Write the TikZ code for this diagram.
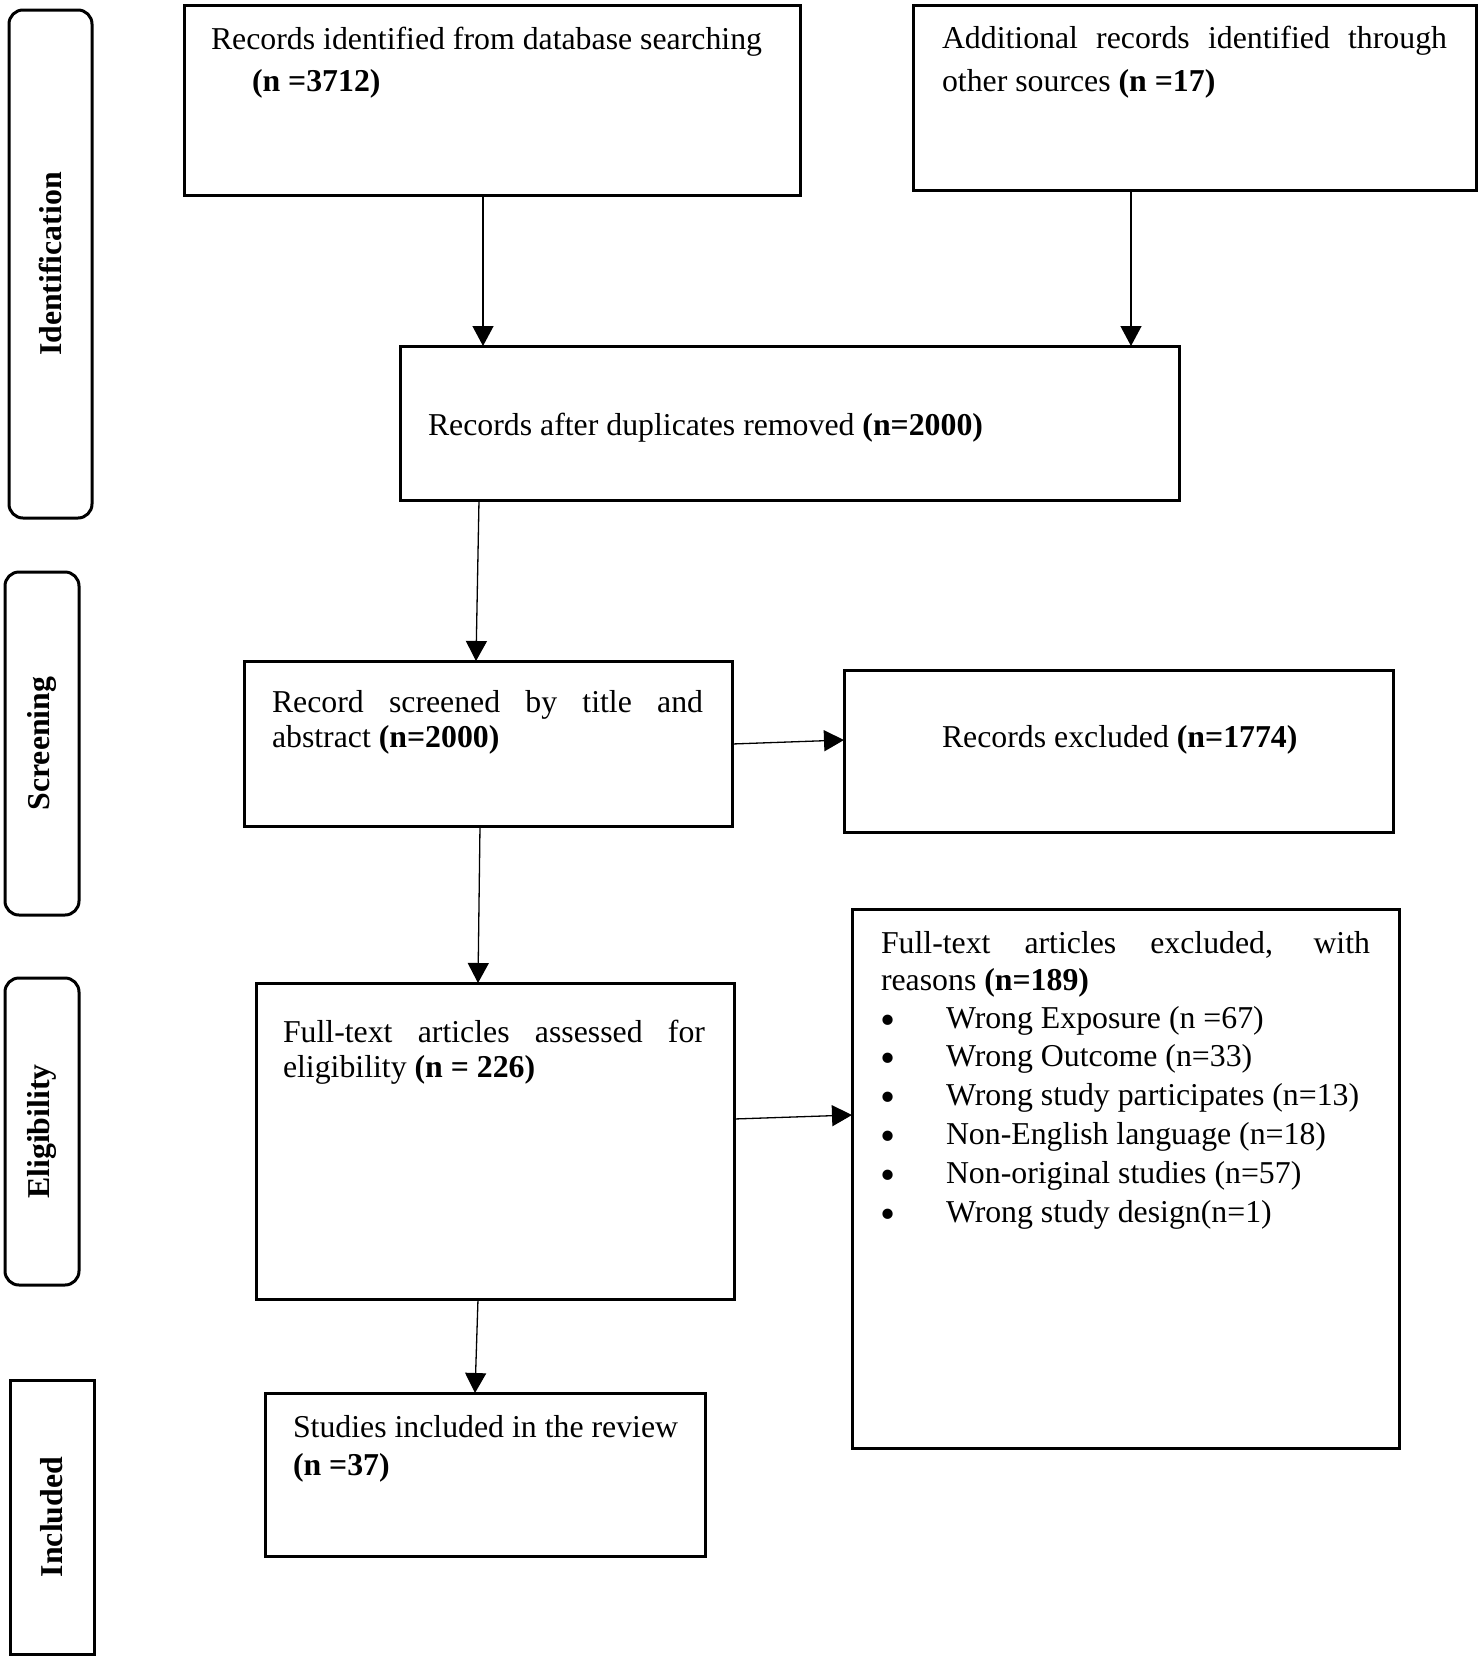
\documentclass[tikz,border=0pt]{standalone}
\usepackage{fontspec}
\setmainfont{Liberation Serif}
\usetikzlibrary{arrows.meta}
\newcommand\myfs{\fontsize{31.8}{38}\selectfont}
\newcommand\mybullet{\raisebox{-6pt}{\fontsize{43}{43}\selectfont\textbullet}}
\tikzset{
  box/.style={draw, line width=3pt, inner sep=0pt, outer sep=0pt, anchor=north west},
  side/.style={draw, line width=3pt, inner sep=0pt, outer sep=0pt, anchor=north west, rounded corners=14pt},
  sidesq/.style={draw, line width=3pt, inner sep=0pt, outer sep=0pt, anchor=north west},
  sidelabel/.style={rotate=90, inner sep=0pt, font=\myfs\bfseries},
  txt/.style={anchor=base west, inner sep=0pt, outer sep=0pt, font=\myfs},
  arr/.style={-{Triangle[length=20pt,width=21pt]}, line width=1.3pt},
}
\begin{document}
\begin{tikzpicture}[x=1pt,y=1pt]
\useasboundingbox (0,0) rectangle (1480,-1658);
% side boxes
\node[side, minimum width=83pt, minimum height=508pt] (ident) at (9,-10) {};
\node[sidelabel] (identL) at (ident.center) {Identification};
\node[side, minimum width=74pt, minimum height=343pt] (scr) at (5,-572) {};
\node[sidelabel] (scrL) at (scr.center) {Screening};
\node[side, minimum width=74pt, minimum height=307pt] (elig) at (5,-978) {};
\node[sidelabel] (eligL) at (elig.center) {Eligibility};
\node[sidesq, minimum width=84pt, minimum height=274pt] (incl) at (10,-1380) {};
\node[sidelabel] (inclL) at (incl.center) {Included};
% main boxes
\node[box, minimum width=616pt, minimum height=190pt] (A) at (184,-5) {};
\node[box, minimum width=563pt, minimum height=185pt] (B) at (913,-5) {};
\node[box, minimum width=779pt, minimum height=154pt] (C) at (400,-346) {};
\node[box, minimum width=488pt, minimum height=165pt] (D) at (244,-661) {};
\node[box, minimum width=549pt, minimum height=162pt] (E) at (844,-670) {};
\node[box, minimum width=478pt, minimum height=316pt] (F) at (256,-983) {};
\node[box, minimum width=547pt, minimum height=539pt] (G) at (852,-909) {};
\node[box, minimum width=440pt, minimum height=163pt] (H) at (265,-1393) {};
% texts
\node[txt] (a1) at (211,-49) {Records identified from database searching};
\node[txt] (a2) at (252,-91) {\textbf{(n =3712)}};
\node[txt] (b1) at (942,-48) {\makebox[505pt][s]{Additional records identified through}};
\node[txt] (b2) at (942,-91) {other sources \textbf{(n =17)}};
\node[txt] (c1) at (428,-435) {Records after duplicates removed \textbf{(n=2000)}};
\node[txt] (d1) at (272,-712) {\makebox[431pt][s]{Record screened by title and}};
\node[txt] (d2) at (272,-747) {abstract \textbf{(n=2000)}};
\node[txt] (e1) at (942,-747) {Records excluded \textbf{(n=1774)}};
\node[txt] (f1) at (283,-1042) {\makebox[422pt][s]{Full-text articles assessed for}};
\node[txt] (f2) at (283,-1077) {eligibility \textbf{(n = 226)}};
\node[txt] (g1) at (881,-953) {\makebox[489pt][s]{Full-text articles excluded, with}};
\node[txt] (g2) at (881,-990) {reasons \textbf{(n=189)}};
\foreach \i/\t [count=\k from 0] in {1/{Wrong Exposure (n =67)},2/{Wrong Outcome (n=33)},3/{Wrong study participates (n=13)},4/{Non-English language (n=18)},5/{Non-original studies (n=57)},6/{Wrong study design(n=1)}}{
  \node[txt] (gb\i) at (880.5,{-1028-38.8*\k}) {\mybullet};
  \node[txt] (gt\i) at (946,{-1028-38.8*\k}) {\t};
}
\node[txt] (h1) at (293,-1437) {Studies included in the review};
\node[txt] (h2) at (293,-1475) {\textbf{(n =37)}};
% arrows
\draw[arr] ([xshift=299pt]A.south west) -- ([xshift=83pt]C.north west);
\draw[arr] ([xshift=218pt]B.south west) -- ([xshift=731pt]C.north west);
\draw[arr] ([xshift=79pt]C.south west) -- ([xshift=232pt]D.north west);
\draw[arr] ([yshift=-83pt]D.north east) -- ([yshift=-70pt]E.north west);
\draw[arr] ([xshift=236pt]D.south west) -- ([xshift=222pt]F.north west);
\draw[arr] ([yshift=-136pt]F.north east) -- ([yshift=-206pt]G.north west);
\draw[arr] ([xshift=222pt]F.south west) -- ([xshift=210pt]H.north west);
\end{tikzpicture}
\end{document}
